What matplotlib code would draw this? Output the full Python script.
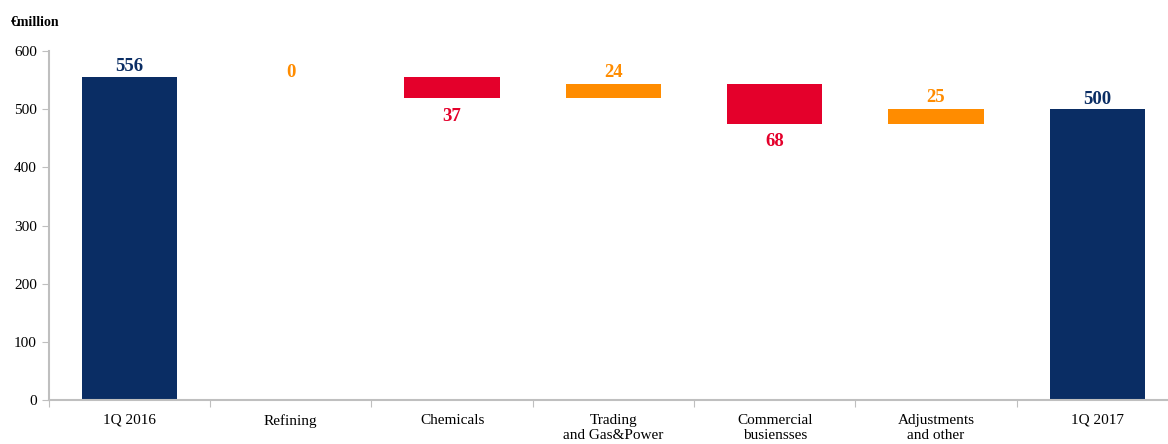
import matplotlib
matplotlib.use('Agg')
import matplotlib.pyplot as plt

categories = ['1Q 2016', 'Refining', 'Chemicals', 'Trading\nand Gas&Power',
              'Commercial\nbusiensses', 'Adjustments\nand other', '1Q 2017']
changes = [556, 0, -37, 24, -68, 25, 500]
kinds = ['total', 'delta', 'delta', 'delta', 'delta', 'delta', 'total']
labels = ['556', '0', '37', '24', '68', '25', '500']

NAVY = '#0a2d64'
RED = '#e4002b'
ORANGE = '#ff8c00'

plt.rcParams['font.family'] = ['Liberation Serif', 'DejaVu Serif']

fig = plt.figure(figsize=(11.68, 4.44), dpi=100)
# axis runs a bit past the right edge of the figure, like the original
ax = fig.add_axes([0.0418, 0.099, 0.9667, 0.786])

level = 0
for i, (v, k, lab) in enumerate(zip(changes, kinds, labels)):
    if k == 'total':
        bottom, height = 0, v
        level = v
        color = NAVY
        ytxt, off, va = v, 1, 'bottom'
    else:
        if v > 0:
            bottom, height = level, v
            color = ORANGE
            ytxt, off, va = level + v, 2, 'bottom'
        elif v == 0:
            bottom, height = level, 0
            color = ORANGE
            ytxt, off, va = level, -3, 'bottom'
        else:
            bottom, height = level + v, -v
            color = RED
            ytxt, off, va = level + v, -7, 'top'
        level += v
    if height:
        ax.bar(i, height, bottom=bottom, width=0.59, color=color)
    ax.annotate(lab, (i, ytxt), xytext=(0, off), textcoords='offset points',
                ha='center', va=va, fontsize=13.5, fontweight='bold', color=color)

ax.set_xlim(-0.5, len(categories) - 0.5)
ax.set_ylim(0, 600)
ax.set_yticks(range(0, 601, 100))
ax.tick_params(axis='y', labelsize=11, color='#bfbfbf', length=5)

ax.set_xticks([i - 0.5 for i in range(len(categories) + 1)])
ax.set_xticklabels([])
ax.set_xticks(range(len(categories)), minor=True)
ax.set_xticklabels(categories, minor=True, fontsize=11, va='top')
ax.tick_params(axis='x', which='major', color='#bfbfbf', length=5)
ax.tick_params(axis='x', which='minor', length=0, pad=10)

for s in ['top', 'right']:
    ax.spines[s].set_visible(False)
for s in ['left', 'bottom']:
    ax.spines[s].set_color('#bfbfbf')
    ax.spines[s].set_linewidth(1.5)

fig.text(0.009, 0.95, '€million', fontsize=10, fontweight='bold', va='center')

fig.savefig('out.png', dpi=100)
